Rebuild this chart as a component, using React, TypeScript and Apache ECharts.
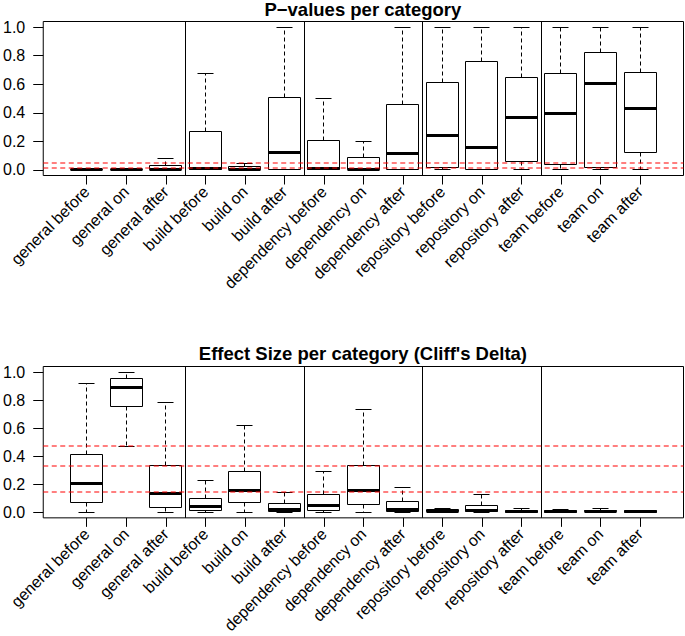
import React, { useEffect, useRef } from "react";
import * as echarts from "echarts";

const categories = [
  "general before", "general on", "general after",
  "build before", "build on", "build after",
  "dependency before", "dependency on", "dependency after",
  "repository before", "repository on", "repository after",
  "team before", "team on", "team after",
];

// P-values per category (min, q1, median, q3, max)
const pMin = [0, 0, 0, 0, 0, 0, 0, 0, 0, 0.002, 0, 0.001, 0.001, 0.001, 0.002];
const pQ1 = [0, 0, 0.001, 0.001, 0, 0.002, 0.001, 0, 0.002, 0.014, 0.003, 0.056, 0.04, 0.017, 0.118];
const pMed = [0.001, 0, 0.005, 0.01, 0.003, 0.122, 0.008, 0.003, 0.115, 0.24, 0.155, 0.364, 0.397, 0.608, 0.43];
const pQ3 = [0.003, 0.002, 0.033, 0.272, 0.024, 0.51, 0.202, 0.085, 0.46, 0.61, 0.76, 0.648, 0.676, 0.822, 0.679];
const pMax = [0.006, 0.004, 0.078, 0.675, 0.045, 0.998, 0.5, 0.2, 1.0, 1.0, 1.0, 1.0, 1.0, 1.0, 1.0];

// Effect size (Cliff's delta) per category
const eMin = [0, 0.472, 0, 0, 0, 0, 0, 0, 0, 0, 0, 0, 0, 0, 0];
const eQ1 = [0.073, 0.758, 0.035, 0.011, 0.068, 0.004, 0.014, 0.058, 0.007, 0.002, 0.002, 0.001, 0.001, 0.002, 0.001];
const eMed = [0.206, 0.887, 0.131, 0.042, 0.152, 0.023, 0.046, 0.155, 0.023, 0.008, 0.012, 0.006, 0.004, 0.006, 0.004];
const eQ3 = [0.413, 0.951, 0.335, 0.096, 0.289, 0.061, 0.127, 0.331, 0.077, 0.018, 0.05, 0.015, 0.01, 0.015, 0.009];
const eMax = [0.918, 1.0, 0.782, 0.225, 0.617, 0.141, 0.293, 0.732, 0.178, 0.03, 0.124, 0.028, 0.018, 0.03, 0.016];

const yTicks = [0, 0.2, 0.4, 0.6, 0.8, 1.0];
const pThresholds = [0.01, 0.05];
const eThresholds = [0.147, 0.33, 0.474];
const groupSeparators = [3.5, 6.5, 9.5, 12.5];
const titles = ["P\u2212values per category", "Effect Size per category (Cliff's Delta)"];

const FONT = "'Liberation Sans', Arial, Helvetica, sans-serif";
const xPositions = categories.map((_, i) => i + 1);

function makeData(mn: number[], q1: number[], md: number[], q3: number[], mx: number[]) {
  return categories.map((_, i) => [i + 1, mn[i], q1[i], md[i], q3[i], mx[i]]);
}

const crisp = (v: number) => Math.round(v - 0.5) + 0.5;

const renderBox = (params: any, api: any) => {
  const x = api.value(0);
  const pts = [1, 2, 3, 4, 5].map((k) => api.coord([x, api.value(k)]));
  const cx = crisp(pts[0][0]);
  const bw = Math.round(api.size([0.8, 0])[0] / 2);
  const sw = Math.round(bw / 2);
  const [yMin, yQ1, yMed, yQ3, yMax] = pts.map((p: number[]) => crisp(p[1]));
  const solid = { stroke: "#000", lineWidth: 1 };
  const dashed = { stroke: "#000", lineWidth: 1, lineDash: [4, 3] };
  return {
    type: "group",
    children: [
      { type: "line", shape: { x1: cx, y1: yQ3, x2: cx, y2: yMax }, style: dashed },
      { type: "line", shape: { x1: cx, y1: yQ1, x2: cx, y2: yMin }, style: dashed },
      { type: "line", shape: { x1: cx - sw, y1: yMax, x2: cx + sw, y2: yMax }, style: solid },
      { type: "line", shape: { x1: cx - sw, y1: yMin, x2: cx + sw, y2: yMin }, style: solid },
      {
        type: "rect",
        shape: { x: cx - bw, y: yQ3, width: 2 * bw, height: Math.max(yQ1 - yQ3, 0.01) },
        style: { fill: "none", stroke: "#000", lineWidth: 1 },
      },
      { type: "line", shape: { x1: cx - bw, y1: yMed, x2: cx + bw, y2: yMed }, style: { stroke: "#000", lineWidth: 3 } },
    ],
  };
};

const renderThreshold = (params: any, api: any) => {
  const cs = params.coordSys;
  const y = Math.round(api.coord([api.value(0), api.value(1)])[1]);
  return {
    type: "line",
    shape: { x1: cs.x, y1: y, x2: cs.x + cs.width, y2: y },
    style: { stroke: "#ff0000", lineWidth: 1.2, lineDash: [5, 3.5], fill: "none" },
  };
};

const renderSeparator = (params: any, api: any) => {
  const cs = params.coordSys;
  const x = crisp(api.coord([api.value(0), api.value(1)])[0]);
  return {
    type: "line",
    shape: { x1: x, y1: cs.y, x2: x, y2: cs.y + cs.height },
    style: { stroke: "#000", lineWidth: 1, fill: "none" },
  };
};

export default function App() {
  const ref = useRef<HTMLDivElement>(null);
  useEffect(() => {
    if (!ref.current) return;
    const chart = echarts.init(ref.current, undefined, { renderer: "svg" });
    const grids = [
      { left: 41.5, right: 1.5, top: 21.5, height: 154 },
      { left: 41.5, right: 1.5, top: 366.5, height: 153.5 },
    ].map((g) => ({ ...g, show: true, borderColor: "#000", borderWidth: 1, backgroundColor: "transparent", containLabel: false }));

    const xAxes = [0, 1].map((gi) => ({
      type: "value",
      gridIndex: gi,
      min: -0.1,
      max: 16.1,
      position: "bottom",
      axisLine: { show: false, onZero: false },
      splitLine: { show: false },
      axisTick: { show: true, customValues: xPositions, length: 9, inside: false, lineStyle: { color: "#000", width: 1 } },
      axisLabel: {
        show: true,
        customValues: xPositions,
        formatter: (v: number) => categories[Math.round(v) - 1] ?? "",
        rotate: 45,
        margin: 13.5,
        fontSize: 16,
        fontFamily: FONT,
        color: "#000",
        hideOverlap: false,
      },
    }));

    const yAxes = [0, 1].map((gi) => ({
      type: "value",
      gridIndex: gi,
      min: -0.04,
      max: 1.04,
      axisLine: { show: false, onZero: false },
      splitLine: { show: false },
      axisTick: { show: true, customValues: yTicks, length: 10, lineStyle: { color: "#000", width: 1 } },
      axisLabel: {
        show: true,
        customValues: yTicks,
        formatter: (v: number) => v.toFixed(1),
        margin: 18,
        fontSize: 16,
        fontFamily: FONT,
        color: "#000",
      },
    }));

    const boxSeries = (gi: number, data: number[][]) => ({
      type: "custom",
      xAxisIndex: gi,
      yAxisIndex: gi,
      silent: true,
      clip: false,
      renderItem: renderBox,
      encode: { x: 0, y: [1, 2, 3, 4, 5] },
      data,
      z: 2,
    });

    const sepSeries = (gi: number) => ({
      type: "custom",
      xAxisIndex: gi,
      yAxisIndex: gi,
      silent: true,
      renderItem: renderSeparator,
      encode: { x: 0, y: 1 },
      data: groupSeparators.map((s) => [s, 0.5]),
      z: 4,
    });

    const threshSeries = (gi: number, thresholds: number[]) => ({
      type: "custom",
      xAxisIndex: gi,
      yAxisIndex: gi,
      silent: true,
      renderItem: renderThreshold,
      encode: { x: 0, y: 1 },
      data: thresholds.map((t) => [8, t]),
      z: 5,
    });

    chart.setOption({
      animation: false,
      textStyle: { fontFamily: FONT },
      grid: grids,
      xAxis: xAxes,
      yAxis: yAxes,
      graphic: [
        {
          type: "text",
          x: 362.9,
          y: 9.5,
          style: { text: titles[0], fontSize: 18.5, fontWeight: "bold", fontFamily: FONT, fill: "#000", align: "center", verticalAlign: "middle" },
        },
        {
          type: "text",
          x: 362.9,
          y: 353,
          style: { text: titles[1], fontSize: 18.5, fontWeight: "bold", fontFamily: FONT, fill: "#000", align: "center", verticalAlign: "middle" },
        },
      ],
      series: [
        boxSeries(0, makeData(pMin, pQ1, pMed, pQ3, pMax)),
        boxSeries(1, makeData(eMin, eQ1, eMed, eQ3, eMax)),
        sepSeries(0),
        sepSeries(1),
        threshSeries(0, pThresholds),
        threshSeries(1, eThresholds),
      ],
    });
    return () => chart.dispose();
  }, []);
  return <div ref={ref} style={{ position: "absolute", left: 0, top: 0, width: 685, height: 636 }} />;
}
